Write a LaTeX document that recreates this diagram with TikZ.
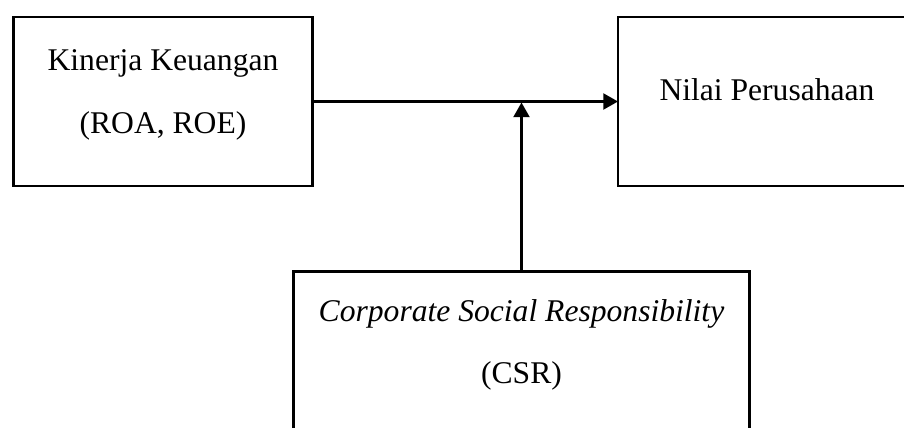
\documentclass[tikz,border=0pt]{standalone}
\usepackage{fontspec}
\setmainfont{Liberation Serif}
\usetikzlibrary{arrows.meta}
\begin{document}
\begin{tikzpicture}[x=0.75pt,y=-0.75pt,
  box/.style={draw=black,line width=1.7pt,fill=none,inner sep=0pt,outer sep=0pt},
  label/.style={anchor=base,inner sep=0pt,font=\fontsize{23.7pt}{28pt}\selectfont},
  conn/.style={line width=1.6pt,-{Triangle[length=11pt,width=12pt]}}]
\useasboundingbox (0,0) rectangle (904,428);
\clip (0,0) rectangle (904,428);
\node[box,minimum width=224.25pt,minimum height=126.75pt] (kk) at (163,101.5) {};
\node[box,minimum width=223.5pt,minimum height=126.75pt] (np) at (767,101.5) {};
\node[box,minimum width=342pt,minimum height=150pt] (csr) at (521.5,371.5) {};
\node[label] (kkt1) at (163,71) {Kinerja Keuangan};
\node[label] (kkt2) at (163,133) {(ROA, ROE)};
\node[label] (npt) at (767,100.7) {Nilai Perusahaan};
\node[label] (csrt1) at (521.5,321.7) {\itshape Corporate Social Responsibility};
\node[label] (csrt2) at (521.5,383) {(CSR)};
\coordinate (tgt) at (521.5,102.5);
\draw[conn] (kk.east) -- (np.west);
\draw[conn] (csr.north) -- (tgt);
\end{tikzpicture}
\end{document}
